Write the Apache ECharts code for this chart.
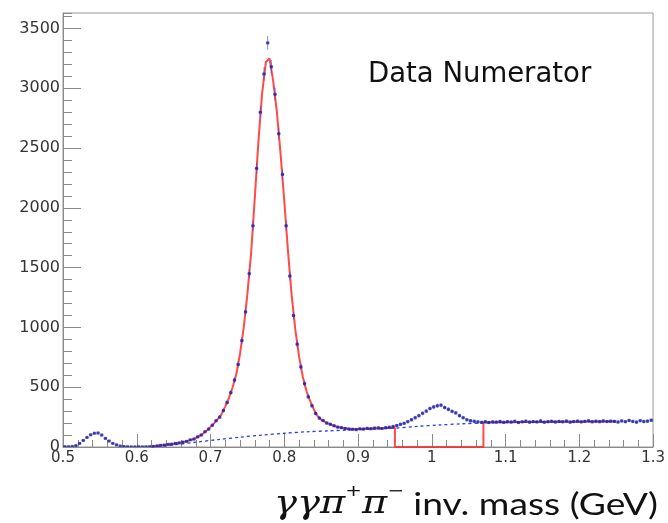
<!DOCTYPE html>
<html><head><meta charset="utf-8">
<script src="https://cdn.jsdelivr.net/npm/echarts@6/dist/echarts.min.js"></script>
<style>html,body{margin:0;padding:0;background:#fff}#c{width:668px;height:523px}</style>
</head><body><div id="c"></div>
<script>
// ---- data ----
const binLow = 0.5;
const binWidth = 0.005;
const counts = [
  3, 2, 5, 12, 30, 55, 80, 102, 115, 117,
  100, 72, 50, 30, 18, 8, 4, 2, 1, 1,
  2, 1, 2, 3, 5, 9, 14, 16, 22, 24,
  30, 34, 41, 47, 60, 66, 85, 100, 128, 150,
  182, 220, 250, 305, 372, 455, 560, 690, 890, 1130,
  1450, 1850, 2330, 2800, 3120, 3380, 3180, 2950, 2620, 2280,
  1850, 1430, 1100, 860, 670, 530, 420, 345, 280, 242,
  222, 200, 190, 178, 166, 162, 155, 150, 148, 145,
  152, 150, 156, 153, 158, 160, 155, 162, 165, 172,
  180, 190, 198, 212, 228, 245, 262, 282, 300, 322,
  335, 345, 350, 330, 315, 298, 285, 262, 245, 228,
  220, 215, 210, 206, 212, 205, 210, 208, 214, 206,
  212, 209, 215, 205, 211, 216, 208, 213, 210, 218,
  207, 212, 215, 209, 214, 211, 217, 208, 213, 216,
  210, 214, 219, 211, 215, 212, 218, 213, 216, 214,
  209, 218, 212, 222, 214, 208, 220, 213, 216, 224
];
// fit (total) left part: 0.620 .. 0.950 step 0.005
const fitLeftStart = 0.62, fitLeftStep = 0.005;
const fitLeft = [
  2, 6, 12, 15, 19, 23, 27, 32, 38, 45,
  53, 62, 75, 92, 112, 138, 168, 200, 235, 275,
  340, 410, 500, 610, 780, 1000, 1280, 1620, 2080, 2560,
  2960, 3220, 3250, 3060, 2800, 2450, 2060, 1640, 1270, 980,
  760, 590, 470, 385, 315, 260, 228, 210, 195, 182,
  172, 164, 158, 154, 152, 151, 151, 151, 152, 153,
  154, 155, 156, 157, 158, 159, 160
];
// fit right part: 1.07 .. 1.25 step 0.01
const fitRightStart = 1.07, fitRightStep = 0.01;
const fitRight = [205, 206, 207, 207, 208, 209, 209, 210, 210, 211, 211, 212, 212, 212, 213, 213, 213, 214, 214];
// excluded window of the fit
const exclLow = 0.95, exclHigh = 1.07;
// background: 0.62 .. 1.25 step 0.03
const bgStart = 0.62, bgStep = 0.03;
const background = [0, 18, 40, 62, 82, 100, 115, 127, 135, 143, 150, 158, 172, 184, 194, 201, 205, 208, 210, 212, 213, 214];

const xTicks = [0.5, 0.6, 0.7, 0.8, 0.9, 1.0, 1.1, 1.2, 1.3];
const yTicks = [0, 500, 1000, 1500, 2000, 2500, 3000, 3500];
const yMax = 3630;

// ---- build series data ----
const r4 = v => Math.round(v * 10000) / 10000;
const pts = counts.map((c, i) => [r4(binLow + (i + 0.5) * binWidth), c, Math.sqrt(c)]);
const fitData = fitLeft.map((v, i) => [r4(fitLeftStart + i * fitLeftStep), v]);
fitData.push([exclLow, 0], [exclHigh, 0]);
fitRight.forEach((v, i) => fitData.push([r4(fitRightStart + i * fitRightStep), v]));
const bgData = background.map((v, i) => [r4(bgStart + i * bgStep), v]);

const chart = echarts.init(document.getElementById('c'), null, {renderer: 'canvas'});
const axisGray = '#8a8a8a';
chart.setOption({
  animation: false,
  backgroundColor: '#fff',
  grid: {left: 63, right: 8, top: 13, bottom: 76, show: true, borderColor: '#999', borderWidth: 1},
  xAxis: {
    type: 'value', min: xTicks[0], max: xTicks[xTicks.length - 1], interval: 0.1,
    axisLine: {lineStyle: {color: axisGray, width: 1}},
    axisTick: {inside: true, length: 13, lineStyle: {color: axisGray}},
    minorTick: {show: true, splitNumber: 5, length: 7, lineStyle: {color: axisGray}},
    splitLine: {show: false},
    axisLabel: {color: '#333', fontFamily: 'DejaVu Sans', fontSize: 15, margin: 4,
      formatter: v => String(+v.toFixed(1))}
  },
  yAxis: [{
    type: 'value', min: yTicks[0], max: yMax, interval: 500,
    axisLine: {show: true, lineStyle: {color: axisGray, width: 1}},
    axisTick: {inside: true, length: 18, lineStyle: {color: axisGray}},
    splitLine: {show: false},
    axisLabel: {color: '#333', fontFamily: 'DejaVu Sans', fontSize: 16, margin: 3, showMaxLabel: false,
      formatter: v => String(v)}
  }, {
    type: 'value', min: yTicks[0], max: yMax, interval: 100, position: 'left',
    axisLine: {show: false},
    axisTick: {show: true, inside: true, length: 9, lineStyle: {color: axisGray}},
    splitLine: {show: false},
    axisLabel: {show: false}
  }],
  series: [{
    type: 'line', data: fitData, showSymbol: false, symbol: 'none',
    lineStyle: {color: '#ff2a2a', width: 2, opacity: 0.85}, z: 3, clip: false
  }, {
    type: 'line', data: bgData, showSymbol: false, symbol: 'none', smooth: 0.3,
    lineStyle: {color: '#2a3cf0', width: 1.3, type: [3, 3]}, z: 4
  }, {
    type: 'custom', data: pts, encode: {x: 0, y: 1}, z: 5, clip: true,
    renderItem: (params, api) => {
      const x = api.value(0), y = api.value(1), e = api.value(2);
      const p = api.coord([x, y]);
      const hi = api.coord([x, y + e]);
      const lo = api.coord([x, Math.max(0, y - e)]);
      const l = api.coord([x - binWidth / 2, y]);
      const r = api.coord([x + binWidth / 2, y]);
      return {type: 'group', children: [
        {type: 'line', shape: {x1: p[0], y1: hi[1], x2: p[0], y2: lo[1]},
          style: {stroke: 'rgba(70,70,210,0.65)', lineWidth: 1}},
        {type: 'line', shape: {x1: l[0], y1: p[1], x2: r[0], y2: p[1]},
          style: {stroke: 'rgba(60,60,200,0.6)', lineWidth: 1}},
        {type: 'rect', shape: {x: p[0] - 1.5, y: p[1] - 1.5, width: 3, height: 3},
          style: {fill: 'rgba(35,35,165,0.8)'}}
      ]};
    }
  }],
  graphic: [{
    type: 'text', style: {
      x: 368, y: 75, text: 'Data Numerator', fill: '#111',
      font: '27.5px "DejaVu Sans"', verticalAlign: 'middle', align: 'left'
    }
  }, {
    type: 'text', x: 658, y: 502, scaleX: 1.24, scaleY: 1,
    style: {
      x: 0, y: 0, align: 'right', verticalAlign: 'middle', fill: '#111',
      text: '{g|γγπ}{s|+}{g|π}{s|−}{b| inv. mass (GeV)}',
      rich: {
        g: {font: 'italic 31px "DejaVu Serif"', lineHeight: 36, verticalAlign: 'bottom', fill: '#111'},
        s: {font: '16px "DejaVu Sans"', lineHeight: 27, verticalAlign: 'top', fill: '#111'},
        b: {font: '30px "Lato"', lineHeight: 36, verticalAlign: 'bottom', fill: '#111'}
      }
    }
  }]
});
</script></body></html>
